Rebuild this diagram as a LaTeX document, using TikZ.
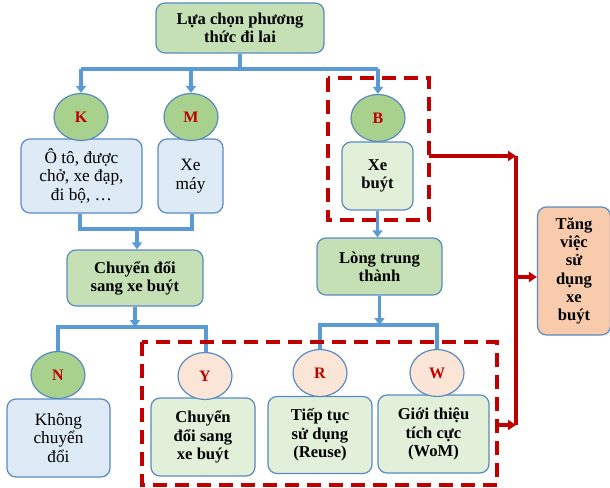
\documentclass[tikz,border=0pt]{standalone}
\usepackage{fontspec}
\setmainfont{Liberation Serif}
\usetikzlibrary{arrows.meta,shapes.geometric}
\definecolor{bline}{HTML}{5B9BD5}
\definecolor{bord}{HTML}{5A8AC0}
\definecolor{rline}{HTML}{C00000}
\definecolor{gmain}{HTML}{C5E0B4}
\definecolor{gcirc}{HTML}{A9D18E}
\definecolor{glight}{HTML}{E2F0D9}
\definecolor{blight}{HTML}{DEEBF7}
\definecolor{pcirc}{HTML}{FBE5D6}
\definecolor{salmon}{HTML}{F8CBAD}
\tikzset{
  box/.style={draw=bord,line width=1.2pt,rounded corners=9pt,align=center,inner sep=1pt,
    font=\fontsize{16.6}{18.3}\selectfont\bfseries},
  mainbox/.style={box,fill=gmain},
  lightbox/.style={box,fill=glight},
  bluebox/.style={box,fill=blight,font=\fontsize{17.3}{18.6}\selectfont},
  circ/.style={ellipse,draw=bord,line width=1.2pt,minimum width=54pt,minimum height=47pt,inner sep=0pt,
    text=rline,font=\fontsize{16}{17}\selectfont\bfseries},
  gc/.style={circ,fill=gcirc},
  pc/.style={circ,fill=pcirc},
  conn/.style={draw=bline,line width=3.4pt},
  arr/.style={conn,-{Triangle[width=10pt,length=7pt]}},
  rdash/.style={draw=rline,line width=3.2pt,dash pattern=on 14pt off 8pt},
  rarr/.style={draw=rline,line width=3.2pt,-{Triangle[width=10pt,length=8pt]}},
  rcon/.style={draw=rline,line width=3.2pt}
}
\begin{document}
\begin{tikzpicture}[x=1pt,y=-1pt]
\useasboundingbox (0,0) rectangle (610,487);
% boxes
\node[mainbox,minimum width=168pt,minimum height=50pt] (top) at (240,28) {Lựa chọn phương\\thức đi lai};
\node[bluebox,minimum width=121pt,minimum height=74pt] (kbox) at (81.5,176) {Ô tô, được\\chở, xe đạp,\\đi bộ, …};
\node[bluebox,minimum width=65pt,minimum height=74pt] (mbox) at (190.5,176) {Xe\\máy};
\node[lightbox,minimum width=71pt,minimum height=68pt] (bbox) at (377.5,176) {Xe\\buýt};
\node[mainbox,minimum width=136pt,minimum height=56pt] (chuyen) at (135,278) {Chuyển đổi\\sang xe buýt};
\node[mainbox,minimum width=125pt,minimum height=57pt] (long) at (379.5,266.5) {Lòng trung\\thành};
\node[bluebox,minimum width=103pt,minimum height=78pt] (nbox) at (58.5,438) {Không\\chuyển\\đổi};
\node[lightbox,minimum width=104pt,minimum height=78pt] (ybox) at (203,437) {Chuyển\\đổi sang\\xe buýt};
\node[lightbox,minimum width=104pt,minimum height=77pt] (rbox) at (320,435) {Tiếp tục\\sử dụng\\(Reuse)};
\node[lightbox,minimum width=111pt,minimum height=78pt] (wbox) at (433.5,434) {Giới thiệu\\tích cực\\(WoM)};
\node[box,fill=salmon,minimum width=73pt,minimum height=128pt] (tang) at (574,271) {Tăng\\việc\\sử\\dụng\\xe\\buýt};
% circles
\node[gc] (k) at (81,117) {K};
\node[gc] (m) at (191,117) {M};
\node[gc] (b) at (378,118) {B};
\node[gc] (n) at (58,375) {N};
\node[pc] (y) at (205,376) {Y};
\node[pc] (r) at (320,373) {R};
\node[pc] (w) at (437,373) {W};
% blue connectors
\coordinate (j1) at (240,69);
\draw[conn] (top.south) -- (j1);
\draw[conn] (k.north |- j1) -- (b.north |- j1);
\draw[arr] (k.north |- j1) -- (k.north);
\draw[arr] (m.north |- j1) -- (m.north);
\draw[arr] (b.north |- j1) -- (b.north);
\coordinate (j2) at (137,229);
\draw[conn] (kbox.south -| 80,0) -- (80,229) -- (192,229) -- (mbox.south -| 192,0);
\draw[arr] (j2) -- (chuyen.north -| j2);
\coordinate (j3) at (135,327);
\draw[arr] (chuyen.south) -- (j3);
\draw[conn] (n.north) -- (n.north |- j3) -- (206,327) -- (206,352);
\draw[arr] (bbox.south) -- (long.north -| bbox.south);
\coordinate (j4) at (379.5,325);
\draw[arr] (long.south) -- (j4);
\draw[conn] (r.north) -- (r.north |- j4) -- (w.north |- j4) -- (w.north);
% red dashed boxes
\draw[rdash] (328,78) rectangle (429,220);
\draw[rdash] (142,342) rectangle (497,485);
% red connectors
\coordinate (v1) at (516,156);
\coordinate (v2) at (516,425);
\draw[rcon] (v1) -- (v2);
\draw[rarr] (429,156) -- (v1);
\draw[rarr] (497,425) -- (v2);
\draw[rarr] (516,277) -- (tang.west |- 516,277);
\end{tikzpicture}
\end{document}
